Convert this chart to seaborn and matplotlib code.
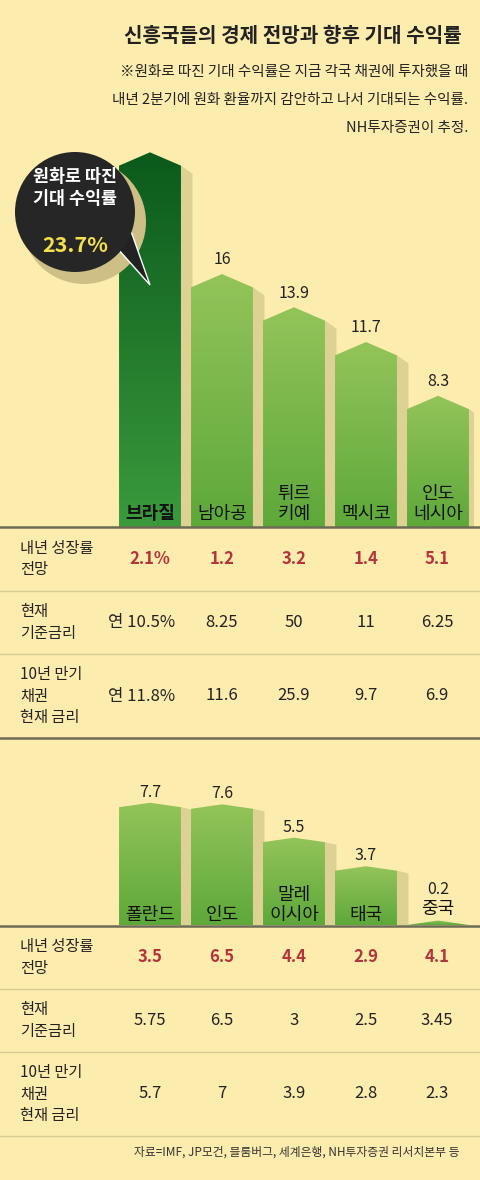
import matplotlib
matplotlib.use("Agg")
import matplotlib.pyplot as plt
import seaborn as sns
import numpy as np
from matplotlib.patches import Polygon, Circle

sns.set_style("white")
plt.rcParams['font.family'] = ['Noto Sans CJK KR', 'DejaVu Sans']

BG = "#fcedae"
RED = "#b2343c"
top_cats = ["브라질", "남아공", "튀르\n키예", "멕시코", "인도\n네시아"]
top_vals = [23.7, 16, 13.9, 11.7, 8.3]
top_growth = ["2.1%", "1.2", "3.2", "1.4", "5.1"]
top_rate = ["연 10.5%", "8.25", "50", "11", "6.25"]
top_bond = ["연 11.8%", "11.6", "25.9", "9.7", "6.9"]
bot_cats = ["폴란드", "인도", "말레\n이시아", "태국", "중국"]
bot_vals = [7.7, 7.6, 5.5, 3.7, 0.2]
bot_growth = ["3.5", "6.5", "4.4", "2.9", "4.1"]
bot_rate = ["5.75", "6.5", "3", "2.5", "3.45"]
bot_bond = ["5.7", "7", "3.9", "2.8", "2.3"]

W, H = 480, 1180
fig = plt.figure(figsize=(4.8, 11.8), dpi=100)
fig.patch.set_facecolor(BG)

def fy(y):
    return 1 - y / H

def T(x, y, s, **kw):
    fig.text(x / W, fy(y), s, **kw)

T(462, 35, "신흥국들의 경제 전망과 향후 기대 수익률", ha="right", va="center", fontsize=14.5, fontweight="bold", color="#222")
for i, line in enumerate(["※원화로 따진 기대 수익률은 지금 각국 채권에 투자했을 때",
                          "내년 2분기에 원화 환율까지 감안하고 나서 기대되는 수익률.",
                          "NH투자증권이 추정."]):
    T(468, 72 + i * 28, line, ha="right", va="center", fontsize=10.5, color="#222")

xs_px = [150, 222, 294, 366, 437]
BW = 0.86

def grad(ax, patch, c1, c2, y0, y1, x0, x1):
    g = np.linspace(0, 1, 100).reshape(-1, 1)
    cmap = matplotlib.colors.LinearSegmentedColormap.from_list("g", [c2, c1])
    im = ax.imshow(g, extent=[x0, x1, y0, y1], origin="lower", aspect="auto", cmap=cmap, zorder=3)
    im.set_clip_path(patch)

def chart(top, base, ymax, cats, vals, first_dark):
    left, right = 114, 474
    ax = fig.add_axes([left / W, fy(base), (right - left) / W, (base - top) / H])
    ax.set_facecolor("none")
    sns.barplot(x=list(range(len(vals))), y=vals, ax=ax, color="#8cc152", width=BW, edgecolor="none")
    for p in list(ax.patches):
        p.set_visible(False)
    ax.set_xlim(-0.5, len(vals) - 0.5)
    ax.set_ylim(0, ymax)
    ax.axis("off")
    roof = ymax * 0.035
    for i, v in enumerate(vals):
        x0, x1 = i - BW / 2, i + BW / 2
        h = max(v, roof)
        sh = Polygon([(x1, 0), (x1, h - roof), (x1 + 0.16, h - roof * 1.6), (x1 + 0.16, 0)],
                     closed=True, facecolor="#ddd193", edgecolor="none", zorder=2)
        ax.add_patch(sh)
        poly = Polygon([(x0, 0), (x0, h - roof), (i, h), (x1, h - roof), (x1, 0)],
                       closed=True, facecolor="none", edgecolor="none", zorder=3)
        ax.add_patch(poly)
        if first_dark and i == 0:
            grad(ax, poly, "#0b5a1c", "#3a9a3c", 0, h, x0, x1)
        else:
            grad(ax, poly, "#93c45a", "#5ea83a", 0, h, x0, x1)
        small = h < ymax * 0.2
        lab_y = h + ymax * 0.02 if small else ymax * 0.01
        if small:
            t = ax.text(i, lab_y, cats[i], ha="center", va="bottom", fontsize=13, color="#111", zorder=5)
            ax.text(i, lab_y + ymax * 0.16, f"{v:g}", ha="center", va="bottom", fontsize=11.5, color="#222", zorder=5)
            continue
        if not (first_dark and i == 0):
            ax.text(i, h + ymax * 0.015, f"{v:g}", ha="center", va="bottom", fontsize=11.5, color="#222", zorder=5)
        ax.text(i, lab_y, cats[i], ha="center", va="bottom", fontsize=13,
                fontweight="bold" if (first_dark and i == 0) else "normal", color="#111",
                linespacing=1.15, zorder=5)
    return ax

chart(top=146, base=527, ymax=24.1, cats=top_cats, vals=top_vals, first_dark=True)
chart(top=798, base=925, ymax=8.0, cats=bot_cats, vals=bot_vals, first_dark=False)

ov = fig.add_axes([0, 0, 1, 1]); ov.set_xlim(0, W); ov.set_ylim(H, 0); ov.axis("off"); ov.set_facecolor("none")
ov.add_patch(Circle((84, 222), 62, facecolor="#cdbf86", edgecolor="none", zorder=1))
ov.add_patch(Polygon([(110, 240), (150, 285), (120, 200)], closed=True, facecolor="#222", zorder=2))
ov.add_patch(Circle((75, 212), 60, facecolor="#262626", edgecolor="none", zorder=2))
ov.text(75, 188, "원화로 따진\n기대 수익률", ha="center", va="center", color="white", fontsize=12.5, fontweight="bold", linespacing=1.3, zorder=3)
ov.text(75, 245, "23.7%", ha="center", va="center", color="#f4e04d", fontsize=15.5, fontweight="bold", zorder=3)

def table(y0, rows):
    ov.plot([0, W], [y0, y0], color="#6b6b55", lw=1.8)
    y = y0
    for label, vals, red, hgt, last in rows:
        ov.text(20, y + hgt / 2, label, ha="left", va="center", fontsize=11, color="#222", linespacing=1.35)
        for x, v in zip(xs_px, vals):
            ov.text(x + (-8 if v.startswith("연") else 0), y + hgt / 2, v, ha="center", va="center",
                    fontsize=12, color=RED if red else "#222", fontweight="bold" if red else "normal")
        y += hgt
        ov.plot([0, W], [y, y], color="#6b6b55" if last else "#d8cc95", lw=1.8 if last else 1)

table(527, [("내년 성장률\n전망", top_growth, True, 64, False),
            ("현재\n기준금리", top_rate, False, 63, False),
            ("10년 만기\n채권\n현재 금리", top_bond, False, 84, True)])
table(926, [("내년 성장률\n전망", bot_growth, True, 63, False),
            ("현재\n기준금리", bot_rate, False, 63, False),
            ("10년 만기\n채권\n현재 금리", bot_bond, False, 84, False)])

T(460, 1152, "자료=IMF, JP모건, 블룸버그, 세계은행, NH투자증권 리서치본부 등", ha="right", va="center", fontsize=8.5, color="#333")

fig.savefig("out.png", dpi=100, facecolor=BG)
